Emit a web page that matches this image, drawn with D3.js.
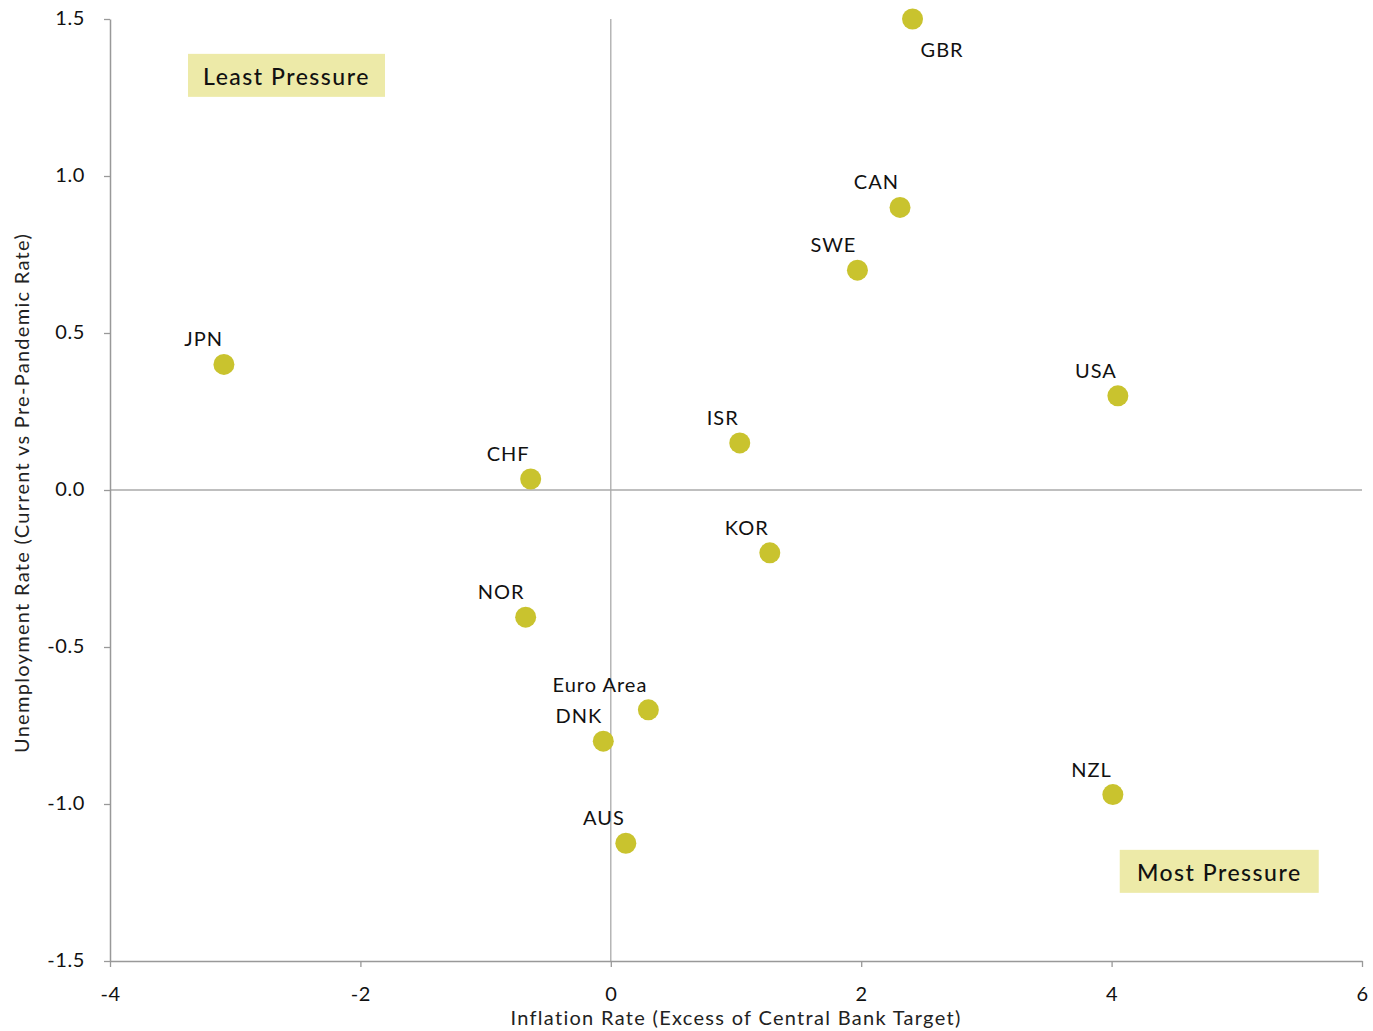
<!DOCTYPE html>
<html><head><meta charset="utf-8">
<script src="https://cdn.jsdelivr.net/npm/d3@7"></script>
<style>body{margin:0;background:#fff;} svg{display:block;font-family:Lato,"Open Sans",sans-serif;}</style>
</head><body>
<svg id="c" width="1373" height="1031"></svg>
<script>
const countries = ["GBR","CAN","SWE","JPN","USA","ISR","CHF","KOR","NOR","Euro Area","DNK","NZL","AUS"];
const inflation = [2.41, 2.31, 1.97, -3.09, 4.05, 1.03, -0.64, 1.27, -0.68, 0.30, -0.06, 4.01, 0.12];
const unemployment = [1.50, 0.90, 0.70, 0.40, 0.30, 0.15, 0.035, -0.20, -0.405, -0.70, -0.80, -0.97, -1.125];
const xTicks = [-4, -2, 0, 2, 4, 6];
const yTicks = [-1.5, -1.0, -0.5, 0.0, 0.5, 1.0, 1.5];

const svg = d3.select("#c");
const x = d3.scaleLinear().domain([-4, 6]).range([110, 1362]);
const y = d3.scaleLinear().domain([-1.5, 1.5]).range([961, 19]);
const axisColor = "#999";
const hy = f => v => f(v).replace("\u2212", "-");

// zero lines
svg.append("line").attr("x1", x(0)).attr("x2", x(0)).attr("y1", y(1.5)).attr("y2", y(-1.5))
  .attr("stroke", "#aaa").attr("stroke-width", 1.3);
svg.append("line").attr("x1", x(-4)).attr("x2", x(6)).attr("y1", y(0)).attr("y2", y(0))
  .attr("stroke", "#aaa").attr("stroke-width", 1.3);

const gx = svg.append("g").attr("transform", `translate(0,${y(-1.5)})`)
  .call(d3.axisBottom(x).tickValues(xTicks).tickSize(6).tickSizeOuter(0).tickFormat(hy(d3.format("d"))));
const gy = svg.append("g").attr("transform", `translate(${x(-4)},0)`)
  .call(d3.axisLeft(y).tickValues(yTicks).tickSize(6).tickSizeOuter(0).tickFormat(hy(d3.format(".1f"))));
[gx, gy].forEach(g => {
  g.select(".domain").attr("stroke", axisColor).attr("stroke-width", 1.5);
  g.selectAll(".tick line").attr("stroke", axisColor).attr("stroke-width", 1.3);
  g.selectAll(".tick text").attr("fill", "#111").style("font-size", "20px")
    .style("letter-spacing", "0.6px").style("font-family", "Lato,'Open Sans',sans-serif");
});
gx.selectAll(".tick text").attr("y", 26).attr("dy", "0.71em");
gy.selectAll(".tick text").attr("x", -25).attr("dy", "0.25em");

// axis titles
svg.append("text").attr("x", 736).attr("y", 1025).attr("text-anchor", "middle")
  .style("font-size", "20px").style("letter-spacing", "1.3px").attr("fill", "#222")
  .text("Inflation Rate (Excess of Central Bank Target)");
svg.append("text").attr("transform", `translate(29,${493}) rotate(-90)`).attr("text-anchor", "middle")
  .style("font-size", "20px").style("letter-spacing", "1.3px").attr("fill", "#222")
  .text("Unemployment  Rate (Current vs Pre-Pandemic  Rate)");

// quadrant boxes
function box(x0, y0, w, h, label) {
  svg.append("rect").attr("x", x0).attr("y", y0).attr("width", w).attr("height", h).attr("fill", "#EDEAA8");
  svg.append("text").attr("x", x0 + w / 2).attr("y", y0 + h / 2 + 10).attr("text-anchor", "middle")
    .style("font-size", "23px").style("letter-spacing", "1.5px").style("font-weight", "500")
    .attr("fill", "#111").text(label);
}
box(x(-3.377), y(1.389), 197, 43, "Least Pressure");
box(x(4.065), y(-1.146), 199, 43, "Most Pressure");

const data = countries.map((c, i) => ({c, x: inflation[i], y: unemployment[i]}));
svg.append("g").selectAll("circle").data(data).join("circle")
  .attr("cx", d => x(d.x)).attr("cy", d => y(d.y)).attr("r", 10.5).attr("fill", "#C9C32E");

svg.append("g").selectAll("text").data(data).join("text")
  .attr("x", d => d.c === "GBR" ? x(d.x) + 8 : x(d.x) - 1)
  .attr("y", d => d.c === "GBR" ? y(d.y) + 38 : y(d.y) - 18)
  .attr("text-anchor", d => d.c === "GBR" ? "start" : "end")
  .style("font-size", "20px").style("letter-spacing", "1px").attr("fill", "#111").text(d => d.c);
</script>
</body></html>
